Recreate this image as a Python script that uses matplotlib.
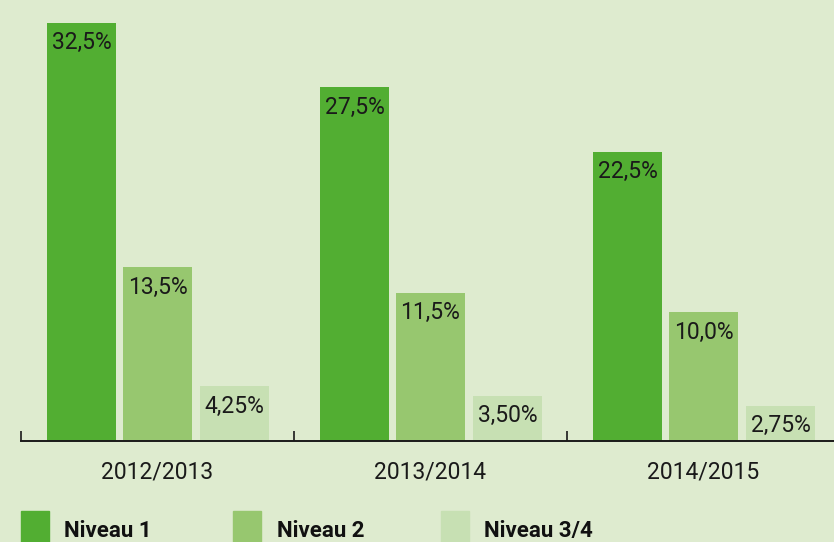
import numpy as np
import matplotlib.pyplot as plt
from matplotlib.patches import Rectangle

plt.rcParams['font.family'] = ['Roboto', 'DejaVu Sans']

# data
years = ["2012/2013", "2013/2014", "2014/2015"]
series = ["Niveau 1", "Niveau 2", "Niveau 3/4"]
niveau1 = [32.5, 27.5, 22.5]
niveau2 = [13.5, 11.5, 10.0]
niveau34 = [4.25, 3.50, 2.75]
labels1 = ["32,5%", "27,5%", "22,5%"]
labels2 = ["13,5%", "11,5%", "10,0%"]
labels34 = ["4,25%", "3,50%", "2,75%"]

colors = ["#52ae32", "#97c76f", "#c7e0b3"]
bg = "#deebcf"

fig = plt.figure(figsize=(8.34, 5.42), dpi=100, facecolor=bg)
ax = fig.add_axes([21/834, 101/542, 813/834, 437/542])
ax.set_facecolor(bg)

x = np.arange(len(years))
w = 69/273
offsets = [-76/273, 0.0, 77/273]
for vals, labs, off, c in zip([niveau1, niveau2, niveau34],
                              [labels1, labels2, labels34], offsets, colors):
    ax.bar(x + off, vals, width=w, color=c, zorder=2)
    for xi, v, lab in zip(x + off, vals, labs):
        ax.annotate(lab, (xi, v), xytext=(0, -6), textcoords='offset points',
                    ha='center', va='top', fontsize=16.5, color='#1a1a1a')

for s in ['top', 'right', 'left']:
    ax.spines[s].set_visible(False)
ax.spines['bottom'].set_linewidth(1.4)
ax.spines['bottom'].set_color('#1a1a1a')

ax.set_yticks([])
ax.set_xticks(x)
ax.set_xticklabels(years, fontsize=16.5, color='#1a1a1a')
ax.tick_params(axis='x', which='major', length=0, pad=14)
ax.set_xticks([-0.5, 0.5, 1.5, 2.5], minor=True)
ax.tick_params(axis='x', which='minor', direction='in', length=7,
               width=1.2, color='#1a1a1a')

# limits last, set_xticks would widen them
ax.set_xlim(-0.5, -0.5 + 813/273)
ax.set_ylim(0, 437/12.86)

# legend drawn by hand
sq_x = [21, 233, 441]
tx_x = [64, 277, 484]
for sx, tx, name, c in zip(sq_x, tx_x, series, colors):
    fig.patches.append(Rectangle((sx/834, 0), 28/834, 31/542,
                                 transform=fig.transFigure, color=c))
    fig.text(tx/834, 0, name, fontsize=16, fontweight='bold',
             color='#111111', ha='left', va='bottom')

fig.savefig("out.png", dpi=100, facecolor=bg)
